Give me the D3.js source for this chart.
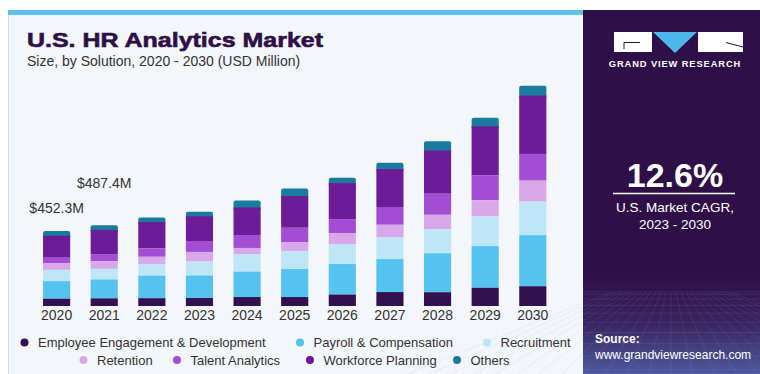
<!DOCTYPE html>
<html>
<head>
<meta charset="utf-8">
<script src="https://cdn.jsdelivr.net/npm/d3@7"></script>
<style>
  html, body { margin: 0; padding: 0; background: #ffffff; }
  svg { display: block; }
  text { font-family: "Liberation Sans", Arial, sans-serif; }
</style>
</head>
<body>
<svg id="chart" width="760" height="374"></svg>
<script>
// ---- data (USD Million) ----
const years = ["2020", "2021", "2022", "2023", "2024", "2025", "2026", "2027", "2028", "2029", "2030"];
const seriesNames = ["Employee Engagement & Development", "Payroll & Compensation", "Recruitment",
                     "Retention", "Talent Analytics", "Workforce Planning", "Others"];
const employeeEngagement = [44, 46, 47, 48, 54, 54, 69, 84, 83, 110, 119];
const payrollCompensation = [106, 114, 136, 136, 153, 169, 184, 199, 235, 251, 308];
const recruitment = [68, 64, 70, 84, 105, 109, 118, 130, 145, 179, 202];
const retention = [39, 46, 44, 58, 38, 54, 69, 77, 87, 98, 127];
const talentAnalytics = [34, 43, 50, 66, 78, 86, 84, 107, 127, 151, 161];
const workforcePlanning = [133, 146, 159, 149, 166, 191, 217, 229, 261, 295, 352];
const others = [28.3, 28.4, 28, 28, 42, 45, 33, 38, 56, 52, 60];
const totalLabels = ["$452.3M", "$487.4M"];
const cagrText = "12.6%";

const seriesValues = [employeeEngagement, payrollCompensation, recruitment, retention,
                      talentAnalytics, workforcePlanning, others];
const colors = ["#33104f", "#55c3f0", "#bfe6f7", "#d8a8ea", "#a34dd4", "#6d1c98", "#1b7b9e"];

const rows = years.map((y, i) => {
  const r = { year: y };
  seriesNames.forEach((k, j) => { r[k] = seriesValues[j][i]; });
  return r;
});

const svg = d3.select("#chart");

// ---- panels ----
svg.append("rect").attr("x", 8).attr("y", 10).attr("width", 575).attr("height", 364).attr("fill", "#f3f6fa");
svg.append("line").attr("x1", 8.5).attr("x2", 8.5).attr("y1", 14).attr("y2", 374)
  .attr("stroke", "#d6dbe1").attr("stroke-width", 1);
svg.append("rect").attr("x", 8).attr("y", 10).attr("width", 575).attr("height", 5).attr("fill", "#5cc2ea");

const defs = svg.append("defs");
const grad = defs.append("linearGradient").attr("id", "sideGrad").attr("x1", 0).attr("y1", 0).attr("x2", 0).attr("y2", 1);
grad.append("stop").attr("offset", "0").attr("stop-color", "#2e0f47");
grad.append("stop").attr("offset", "0.72").attr("stop-color", "#2e0f47");
grad.append("stop").attr("offset", "0.86").attr("stop-color", "#3a2460");
grad.append("stop").attr("offset", "1").attr("stop-color", "#4d5a9c");
svg.append("rect").attr("x", 583).attr("y", 10).attr("width", 177).attr("height", 364).attr("fill", "url(#sideGrad)");

// perspective grid at the foot of the side panel
const gridG = svg.append("g").attr("stroke", "#8fa6e0").attr("stroke-opacity", 0.18).attr("stroke-width", 0.7);
d3.range(0, 10).forEach(i => {
  const yy = 292 + Math.pow(i, 1.6) * 2.3;
  gridG.append("line").attr("x1", 583).attr("x2", 760).attr("y1", yy).attr("y2", yy);
});
d3.range(-12, 13).forEach(i => {
  gridG.append("line").attr("x1", 671 + i * 5).attr("y1", 292).attr("x2", 671 + i * 22).attr("y2", 374);
});

// logo
const logo = svg.append("g");
logo.append("rect").attr("x", 614).attr("y", 32).attr("width", 38).attr("height", 20).attr("fill", "#ffffff");
logo.append("path").attr("d", "M653,32 L697,32 L675,53 Z").attr("fill", "#4fb8ea");
logo.append("rect").attr("x", 698).attr("y", 32).attr("width", 45).attr("height", 20).attr("fill", "#ffffff");
logo.append("path").attr("d", "M624,49 L624,42.5 L640,42.5").attr("fill", "none").attr("stroke", "#2e0f47").attr("stroke-width", 1);
logo.append("path").attr("d", "M726,42.5 L743,47").attr("fill", "none").attr("stroke", "#2e0f47").attr("stroke-width", 1);
svg.append("text").attr("x", 675).attr("y", 67).attr("text-anchor", "middle")
  .attr("fill", "#ffffff").attr("font-size", 9.3).attr("font-weight", "bold").attr("letter-spacing", 0.9)
  .text("GRAND VIEW RESEARCH");

// CAGR block
svg.append("text").attr("x", 675).attr("y", 187).attr("text-anchor", "middle")
  .attr("fill", "#ffffff").attr("font-size", 34).attr("font-weight", "bold").text(cagrText);
svg.append("line").attr("x1", 613).attr("x2", 735).attr("y1", 193.5).attr("y2", 193.5)
  .attr("stroke", "#ffffff").attr("stroke-width", 1.5);
svg.append("text").attr("x", 675).attr("y", 212).attr("text-anchor", "middle")
  .attr("fill", "#ffffff").attr("font-size", 13.5).text("U.S. Market CAGR,");
svg.append("text").attr("x", 675).attr("y", 229).attr("text-anchor", "middle")
  .attr("fill", "#ffffff").attr("font-size", 13.5).text("2023 - 2030");

// source
svg.append("text").attr("x", 595).attr("y", 343).attr("fill", "#ffffff")
  .attr("font-size", 12).attr("font-weight", "bold").text("Source:");
svg.append("text").attr("x", 595).attr("y", 359).attr("fill", "#ffffff")
  .attr("font-size", 12).text("www.grandviewresearch.com");

// ---- title ----
svg.append("text").attr("x", 27).attr("y", 47).attr("fill", "#2e0f47")
  .attr("font-size", 20.5).attr("font-weight", "bold").attr("font-family", "'DejaVu Sans', sans-serif")
  .attr("textLength", 296).attr("lengthAdjust", "spacingAndGlyphs")
  .attr("stroke", "#2e0f47").attr("stroke-width", 0.6)
  .text("U.S. HR Analytics Market");
svg.append("text").attr("x", 27).attr("y", 66).attr("fill", "#333333")
  .attr("font-size", 14).text("Size, by Solution, 2020 - 2030 (USD Million)");

// ---- scales ----
const baseline = 306;
const pxPerUnit = 75 / 452.3;
const yMax = 1400;
const x = d3.scaleBand().domain(years).range([32.8, 556.6]).paddingInner(0.43).paddingOuter(0.215);
const y = d3.scaleLinear().domain([0, yMax]).range([baseline, baseline - yMax * pxPerUnit]);

const stacked = d3.stack().keys(seriesNames)(rows);

// draw top layer first so its lower rounded corners sit under the layer below
const layers = svg.append("g");
stacked.slice().reverse().forEach((layer) => {
  const idx = seriesNames.indexOf(layer.key);
  const isTop = idx === seriesNames.length - 1;
  layers.append("g").attr("fill", colors[idx])
    .selectAll("rect").data(layer).join("rect")
    .attr("x", d => x(d.data.year))
    .attr("width", x.bandwidth())
    .attr("y", d => y(d[1]))
    .attr("height", d => y(d[0]) - y(d[1]) + (isTop ? 3 : 0))
    .attr("rx", isTop ? 2 : 0);
});

// ---- x axis ----
const xAxis = svg.append("g").attr("transform", `translate(0,${baseline})`)
  .call(d3.axisBottom(x).tickSize(0).tickPadding(4));
xAxis.select(".domain").remove();
xAxis.selectAll("text").attr("font-size", 14).attr("fill", "#333333")
  .attr("font-family", "'Liberation Sans', Arial, sans-serif").attr("dy", "0.72em");

// ---- total labels for first two years ----
const totals = rows.map(r => d3.sum(seriesNames, k => r[k]));
const labelOffsets = [18, 37.5];
totalLabels.forEach((t, i) => {
  svg.append("text")
    .attr("x", x(years[i]) + x.bandwidth() / 2)
    .attr("y", y(totals[i]) - labelOffsets[i])
    .attr("text-anchor", "middle").attr("font-size", 14).attr("fill", "#333333")
    .text(t);
});

// ---- legend ----
const legendItems = [
  { idx: 0, cx: 24.5, cy: 342.5 }, { idx: 1, cx: 300, cy: 342.5 }, { idx: 2, cx: 487, cy: 342.5 },
  { idx: 3, cx: 83.5, cy: 360 }, { idx: 4, cx: 177, cy: 360 }, { idx: 5, cx: 310, cy: 360 }, { idx: 6, cx: 457, cy: 360 }
];
const legend = svg.append("g");
legendItems.forEach(it => {
  const g = legend.append("g").attr("transform", `translate(${it.cx},${it.cy})`);
  g.append("circle").attr("r", 4).attr("fill", colors[it.idx]);
  g.append("text").attr("x", 13.5).attr("dy", "0.35em")
    .attr("font-size", 13).attr("fill", "#333333").text(seriesNames[it.idx]);
});
</script>
</body>
</html>
